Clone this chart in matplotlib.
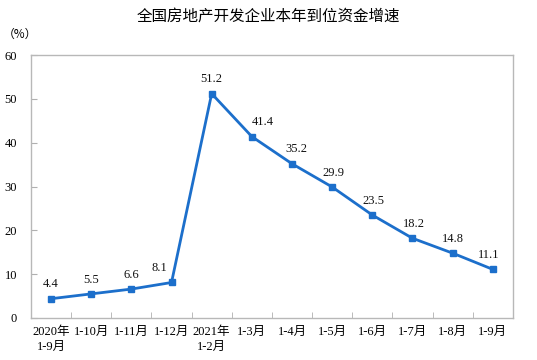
import matplotlib
matplotlib.use("Agg")
import matplotlib.pyplot as plt
from matplotlib.ticker import FixedLocator

categories = ["2020年\n1-9月", "1-10月", "1-11月", "1-12月", "2021年\n1-2月", "1-3月",
              "1-4月", "1-5月", "1-6月", "1-7月", "1-8月", "1-9月"]
values = [4.4, 5.5, 6.6, 8.1, 51.2, 41.4, 35.2, 29.9, 23.5, 18.2, 14.8, 11.1]
yticks = [0, 10, 20, 30, 40, 50, 60]
label_dx = [0, 0, 0, -9, 0, 8, 3, 1, 1, 1, 0, -3]

fam = ["Liberation Serif", "Noto Sans CJK SC"]
plt.rcParams["font.family"] = fam

fig = plt.figure(figsize=(5.37, 3.6), dpi=100)
ax = fig.add_axes([0.0577, 0.1167, 0.8973, 0.7303])

x = list(range(len(values)))
color = "#1C6FCB"
ax.plot(x, values, color=color, lw=2, marker="s", markersize=4.2)

for xi, v, dx in zip(x, values, label_dx):
    ax.annotate(f"{v:.1f}", (xi, v), xytext=(dx, 6), textcoords="offset points",
                ha="center", va="bottom", fontsize=9, color="#111111")

ax.set_xlim(-0.5, 11.5)
ax.set_ylim(0, 60)
ax.set_yticks(yticks)
ax.set_yticklabels([str(t) for t in yticks], fontsize=9)
ax.tick_params(axis="y", direction="in", length=4, color="#B0B0B0", pad=10)

ax.set_xticks(x)
ax.set_xticklabels(categories, fontsize=9, linespacing=1.3)
ax.tick_params(axis="x", which="major", length=0, pad=6)
ax.xaxis.set_minor_locator(FixedLocator([i + 0.5 for i in range(11)]))
ax.tick_params(axis="x", which="minor", direction="in", length=4, color="#B0B0B0")

for s in ax.spines.values():
    s.set_color("#B8B8B8")
    s.set_linewidth(1)

fig.text(0.5, 0.955, "全国房地产开发企业本年到位资金增速", ha="center", va="center",
         fontsize=11.2, family=["Noto Sans CJK SC"])
fig.text(0.005, 0.905, "（%）", ha="left", va="center", fontsize=8.5,
         family=["Noto Sans CJK SC"])

fig.savefig("out.png", dpi=100)
